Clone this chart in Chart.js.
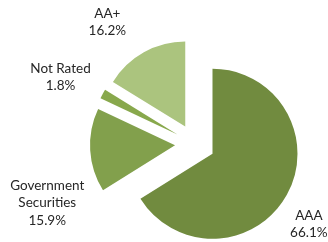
<!DOCTYPE html>
<html>
<head>
<meta charset="utf-8">
<script src="https://cdn.jsdelivr.net/npm/chart.js@4"></script>
<style>
  html, body { margin: 0; padding: 0; background: #fff; }
  #wrap { width: 328px; height: 242px; position: relative; }
</style>
</head>
<body>
<div id="wrap"><canvas id="chart"></canvas></div>
<script>
// ratings breakdown, clockwise from 12 o'clock
const categories = ["AAA", "Government\nSecurities", "Not Rated", "AA+"];
const shares = [66.1, 15.9, 1.8, 16.2];
const colors = ["#718b3f", "#82a04c", "#88a84c", "#abc47e"];

// how far each slice is pulled out (px)
const explode = 20;
// label placement: nudge from the radial spot (px)
const labelNudge = [[-13, 10], [-3, 50], [-7, 2], [-17, 5]];

// chart.js grows big slices when using `offset`, so shift them ourselves
const explodeSlices = {
  id: "explodeSlices",
  afterUpdate(chart) {
    chart.getDatasetMeta(0).data.forEach((arc) => {
      if (arc._exploded) return;
      const draw = arc.draw.bind(arc);
      arc.draw = function (ctx) {
        const mid = (this.startAngle + this.endAngle) / 2;
        ctx.save();
        ctx.translate(Math.cos(mid) * explode, Math.sin(mid) * explode);
        draw(ctx);
        ctx.restore();
      };
      arc._exploded = true;
    });
  },
};

const outsideLabels = {
  id: "outsideLabels",
  afterDatasetsDraw(chart) {
    const ctx = chart.ctx;
    const meta = chart.getDatasetMeta(0);
    ctx.save();
    ctx.font = "13.5px Lato";
    ctx.fillStyle = "#262626";
    ctx.textAlign = "center";
    ctx.textBaseline = "middle";
    meta.data.forEach((arc, i) => {
      const mid = (arc.startAngle + arc.endAngle) / 2;
      const d = explode + arc.outerRadius + 40;
      const x = arc.x + Math.cos(mid) * d + labelNudge[i][0];
      const y = arc.y + Math.sin(mid) * d + labelNudge[i][1];
      const lines = categories[i].split("\n").concat(shares[i].toFixed(1) + "%");
      const lh = 17.5;
      lines.forEach((t, j) => {
        ctx.fillText(t, x, y + (j - (lines.length - 1) / 2) * lh);
      });
    });
    ctx.restore();
  },
};

const chart = new Chart("chart", {
  type: "pie",
  data: {
    labels: categories,
    datasets: [
      {
        data: shares,
        backgroundColor: colors,
        borderWidth: 0,
        radius: 85,
        clip: false,
      },
    ],
  },
  options: {
    responsive: true,
    maintainAspectRatio: false,
    animation: false,
    layout: { padding: { left: 62, right: 0, top: 46, bottom: 0 } },
    plugins: {
      legend: { display: false },
      tooltip: { enabled: false },
    },
  },
  plugins: [explodeSlices, outsideLabels],
});
</script>
</body>
</html>
